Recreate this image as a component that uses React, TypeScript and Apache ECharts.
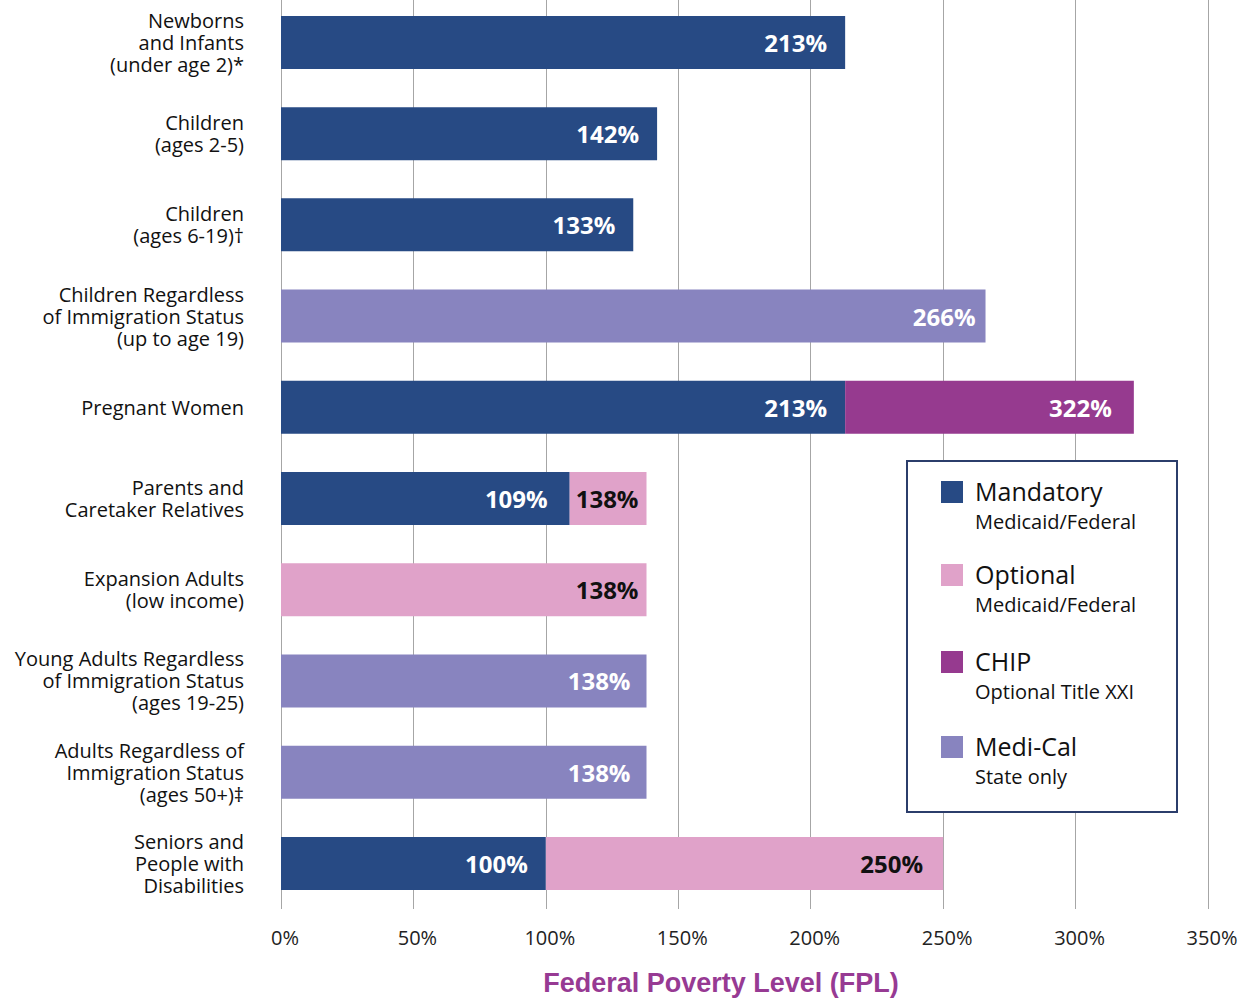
import React, { useEffect, useRef } from "react";
import * as echarts from "echarts";

const categories = [
  "Newborns\nand Infants\n(under age 2)*",
  "Children\n(ages 2-5)",
  "Children\n(ages 6-19)†",
  "Children Regardless\nof Immigration Status\n(up to age 19)",
  "Pregnant Women",
  "Parents and\nCaretaker Relatives",
  "Expansion Adults\n(low income)",
  "Young Adults Regardless\nof Immigration Status\n(ages 19-25)",
  "Adults Regardless of\nImmigration Status\n(ages 50+)‡",
  "Seniors and\nPeople with\nDisabilities",
];

// Upper FPL limit (%) reached by each program, per category (null = not applicable)
const mandatoryLevels = [213, 142, 133, null, 213, 109, null, null, null, 100];
const optionalLevels = [null, null, null, null, null, 138, 138, null, null, 250];
const chipLevels = [null, null, null, null, 322, null, null, null, null, null];
const mediCalLevels = [null, null, null, 266, null, null, null, 138, 138, null];

const xTicks = [0, 50, 100, 150, 200, 250, 300, 350];

const legendNames = ["Mandatory", "Optional", "CHIP", "Medi-Cal"];
const legendSubs = ["Medicaid/Federal", "Medicaid/Federal", "Optional Title XXI", "State only"];

// styling
const colors = ["#274a84", "#e0a2c9", "#963a8f", "#8884bf"];
const labelColors = ["#ffffff", "#111111", "#ffffff", "#ffffff"];
const labelGaps = [18, 8, 22, 16];
const labelGapOverrides: Record<string, number> = { "0-5": 22, "1-9": 20, "3-3": 10 };
const OFF = 12;

export default function App() {
  const ref = useRef<HTMLDivElement>(null);
  useEffect(() => {
    document.body.style.margin = "0";
    document.body.style.overflow = "hidden";
    const chart = echarts.init(ref.current!, null, { renderer: "svg" });
    const levels = [mandatoryLevels, optionalLevels, chipLevels, mediCalLevels];
    const base = categories.map(() => 0);
    const series = levels.map((lv, si) => {
      const data = lv.map((v, i) => {
        if (v == null) return "-";
        const seg = v - base[i];
        base[i] = v;
        const ov = labelGapOverrides[si + "-" + i];
        return ov != null ? { value: seg, label: { distance: ov } } : seg;
      });
      return {
        name: legendNames[si],
        type: "bar",
        stack: "fpl",
        barWidth: 53,
        itemStyle: { color: colors[si] },
        label: {
          show: true,
          position: "insideRight",
          distance: labelGaps[si],
          color: labelColors[si],
          fontFamily: "Open Sans",
          fontWeight: "bold",
          fontSize: 24,
          formatter: (p: any) => lv[p.dataIndex] + "%",
        },
        data,
      };
    });
    const g: any[] = [
      {
        type: "rect",
        shape: { x: 907, y: 461 + OFF, width: 270, height: 351 },
        style: { fill: "#ffffff", stroke: "#2b3d6b", lineWidth: 2 },
        z: 100,
      },
    ];
    const rowY = [491, 574, 661, 746];
    legendNames.forEach((n, i) => {
      g.push({
        type: "rect",
        shape: { x: 941, y: rowY[i] - 10 + OFF, width: 22, height: 22 },
        style: { fill: colors[i] },
        z: 101,
      });
      g.push({
        type: "text",
        x: 975,
        y: rowY[i] + OFF,
        style: {
          text: n,
          fontFamily: "Open Sans",
          fontSize: 25,
          fill: "#111111",
          textVerticalAlign: "middle",
        },
        z: 101,
      });
      g.push({
        type: "text",
        x: 975,
        y: rowY[i] + 30 + OFF,
        style: {
          text: legendSubs[i],
          fontFamily: "Open Sans",
          fontSize: 20,
          fill: "#111111",
          textVerticalAlign: "middle",
        },
        z: 101,
      });
    });
    g.push({
      type: "text",
      x: 721,
      y: 983 + OFF,
      style: {
        text: "Federal Poverty Level (FPL)",
        fontFamily: "Liberation Sans",
        fontWeight: "bold",
        fontSize: 27,
        fill: "#973a93",
        textAlign: "center",
        textVerticalAlign: "middle",
      },
      z: 100,
    });
    chart.setOption({
      animation: false,
      grid: { left: 281, right: 40, top: OFF - 3.2, bottom: 89 },
      xAxis: {
        type: "value",
        min: xTicks[0],
        max: xTicks[xTicks.length - 1],
        interval: 50,
        axisLine: { show: false },
        axisTick: { show: false },
        splitLine: { show: true, lineStyle: { color: "#a6a6a6", width: 1 } },
        axisLabel: {
          formatter: "{value}%",
          fontFamily: "Open Sans",
          fontSize: 20,
          color: "#222222",
          margin: 18,
          padding: [0, 0, 0, 8],
        },
      },
      yAxis: {
        type: "category",
        inverse: true,
        data: categories,
        axisLine: { show: false },
        axisTick: { show: false },
        axisLabel: {
          fontFamily: "Open Sans",
          fontSize: 20,
          lineHeight: 22,
          color: "#111111",
          align: "right",
          margin: 37,
        },
      },
      series,
      graphic: g,
    });
    return () => chart.dispose();
  }, []);
  return (
    <div
      ref={ref}
      style={{ width: 1248, height: 998 + OFF, marginTop: -OFF }}
    />
  );
}
